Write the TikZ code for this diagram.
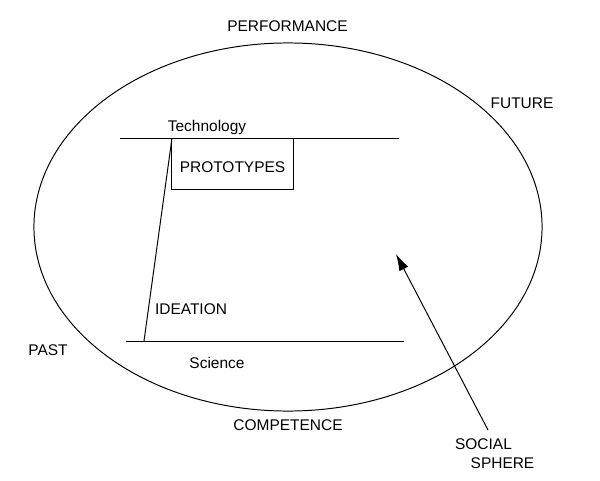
\documentclass[tikz,border=0pt]{standalone}
\usepackage{fontspec}
\setmainfont{Liberation Sans}
\usetikzlibrary{arrows.meta}

\tikzset{
	lbl/.style={anchor=base, inner sep=0pt, font=\fontsize{11}{13}\selectfont},
	axisline/.style={line width=0.7pt},
	protobox/.style={draw, line width=0.7pt, minimum width=3.025cm, minimum height=1.275cm, inner sep=0pt, text height=13pt, text depth=0pt, font=\fontsize{11}{13}\selectfont},
}

\begin{document}
\begin{tikzpicture}[x=0.025cm, y=-0.025cm]
	\useasboundingbox (0,0) rectangle (600,481);

	\draw[axisline] (288,227) ellipse [x radius=6.35cm, y radius=4.6cm];

	\coordinate (techL) at (120,138);
	\coordinate (techR) at (399,138);
	\coordinate (sciL) at (126,341);
	\coordinate (sciR) at (404,341);
	\coordinate (ideaTop) at (172,138);
	\coordinate (ideaBot) at (144,341);
	\coordinate (socTail) at (488,430);
	\coordinate (socTip) at (396,254);

	\draw[axisline] (techL) -- (techR);
	\draw[axisline] (sciL) -- (sciR);
	\node[protobox] (proto) at (232.5,163.5) {PROTOTYPES};
	\draw[axisline] (ideaBot) -- (ideaTop);
	\draw[axisline, -{Latex[length=4.2mm, width=2.5mm]}] (socTail) -- (socTip);

	\node[lbl] (perf) at (287.5,31.7) {PERFORMANCE};
	\node[lbl] (future) at (522,108) {FUTURE};
	\node[lbl] (tech) at (207,131.5) {Technology};
	\node[lbl] (idea) at (191,314) {IDEATION};
	\node[lbl] (past) at (48,355) {PAST};
	\node[lbl] (sci) at (217,368) {Science};
	\node[lbl] (comp) at (288,430) {COMPETENCE};
	\node[lbl] (social) at (483.5,449) {SOCIAL};
	\node[lbl] (sphere) at (502.5,468) {SPHERE};
\end{tikzpicture}
\end{document}
